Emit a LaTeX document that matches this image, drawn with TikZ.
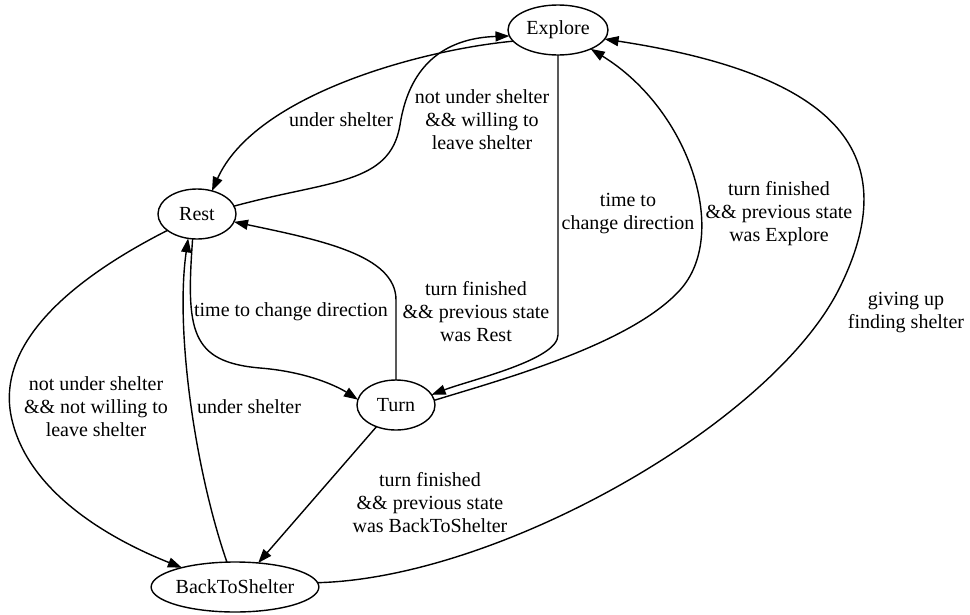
\documentclass[tikz,border=0pt]{standalone}
\usepackage{fontspec}
\setmainfont{Liberation Serif}
\usetikzlibrary{arrows.meta,shapes.geometric}

\begin{document}
\begin{tikzpicture}[x=1pt,y=-1pt,
  font=\fontsize{20}{23}\selectfont,
  state/.style={draw,ellipse,line width=1.4pt,inner sep=0pt,outer sep=0pt,minimum height=50pt},
  trans/.style={-{Triangle[length=14pt,width=10pt]},line width=1.4pt},
  lbl/.style={align=center,inner sep=1pt}]
\useasboundingbox (0,0) rectangle (970,614);
% ---- states ----
\node[state,minimum width=100pt] (explore) at (558,30) {Explore};
\node[state,minimum width=78pt] (rest) at (197,214) {Rest};
\node[state,minimum width=78pt] (turn) at (396,405) {Turn};
\node[state,minimum width=160pt] (back) at (235,587) {BackToShelter};
% ---- transition labels ----
\node[lbl] (lunder1) at (341,120) {under shelter};
\node[lbl] (lleave) at (482,120) {not under shelter\\\&\& willing to\\leave shelter};
\node[lbl] (ltime1) at (628,214) {time to\\change direction};
\node[lbl] (lfinexp) at (779,214) {turn finished\\\&\& previous state\\was Explore};
\node[lbl] (ltime2) at (291,312) {time to change direction};
\node[lbl] (lfinrest) at (476,312) {turn finished\\\&\& previous state\\was Rest};
\node[lbl] (lgiveup) at (906,313) {giving up\\finding shelter};
\node[lbl] (lstay) at (96,407) {not under shelter\\\&\& not willing to\\leave shelter};
\node[lbl] (lunder2) at (249,407) {under shelter};
\node[lbl] (lfinback) at (430,503) {turn finished\\\&\& previous state\\was BackToShelter};
% ---- transitions ----
\draw[trans] (explore.194) .. controls (420,50) and (255,95) .. (rest.57);
\draw[trans] (rest.12) .. controls (330,180) and (390,185) .. (400,125)
  .. controls (410,60) and (450,38) .. (explore.187);
\draw[trans] (explore.south) -- ++(0,280) .. controls (558,360) and (470,380) .. (turn.16);
\draw[trans] (turn.7) .. controls (500,380) and (630,345) .. (680,290)
  .. controls (730,235) and (690,110) .. (explore.330);
\draw[trans] (rest.260) .. controls (186,330) and (190,362) .. (260,368)
  .. controls (310,372) and (340,388) .. (turn.172);
\draw[trans] (back.108) .. controls (195,470) and (175,330) .. (rest.250);
\draw[trans] (turn.north) -- ++(0,-80) .. controls (396,255) and (320,240) .. (rest.348);
\draw[trans] (rest.209) .. controls (60,285) and (-5,350) .. (12,420)
  .. controls (28,488) and (100,535) .. (back.160);
\draw[trans] (turn.228) -- (back.46);
\draw[trans] (back.3) .. controls (500,578) and (774,422) .. (840,287)
  .. controls (905,155) and (840,75) .. (explore.349);
\end{tikzpicture}
\end{document}
